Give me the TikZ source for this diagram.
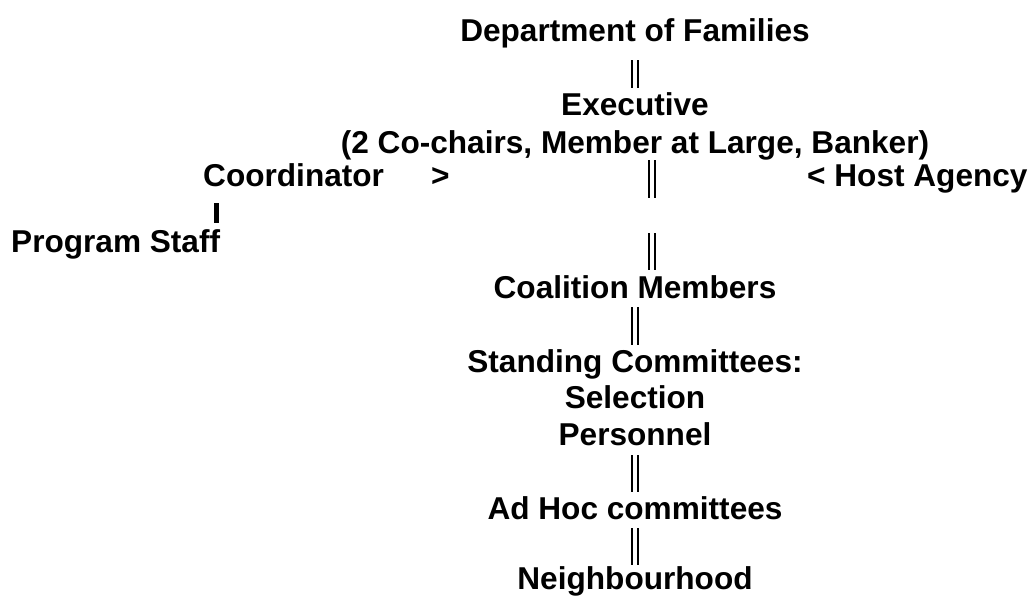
\documentclass[tikz,border=0pt]{standalone}
\usepackage{fontspec}
\setmainfont{Liberation Sans}
\tikzset{
  lbl/.style={inner sep=0, font=\bfseries\fontsize{31.6}{37}\selectfont},
  dbar/.style={double, double distance=3.8pt, line width=2.2pt},
  sbar/.style={line width=5pt}
}
\begin{document}
\begin{tikzpicture}[x=1pt,y=-1pt]
\useasboundingbox (0,0) rectangle (1031,597);
\node[lbl, anchor=base] (dept) at (635,41){Department of Families};
\node[lbl, anchor=base] (exec) at (635,115){Executive};
\node[lbl, anchor=base] (exec2) at (635,153){(2 Co-chairs, Member at Large, Banker)};
\draw[dbar]([yshift=-19pt]dept.base) -- ([yshift=27pt]exec.base);
\node[lbl, anchor=base west] (coord) at (203,186){Coordinator};
\node[lbl, anchor=base west] (gt) at (431,186){>};
\node[lbl, anchor=base west] (host) at (807,186){< Host Agency};
\node[lbl, anchor=base west] (staff) at (11,252){Program Staff};
\draw[sbar]([xshift=13.5pt,yshift=-17pt]coord.base west) -- ([xshift=205.5pt,yshift=29pt]staff.base west);
\node[lbl, anchor=base] (coal) at (635,298){Coalition Members};
\draw[dbar]([xshift=17pt,yshift=-7pt]exec2.base) -- ([xshift=17pt,yshift=-45pt]exec2.base);
\draw[dbar]([xshift=17pt,yshift=65pt]coal.base) -- ([xshift=17pt,yshift=28pt]coal.base);
\node[lbl, anchor=base] (stand) at (635,372){Standing Committees:};
\node[lbl, anchor=base] (sel) at (635,408){Selection};
\node[lbl, anchor=base] (pers) at (635,445){Personnel};
\draw[dbar]([yshift=-9pt]coal.base) -- ([yshift=27pt]stand.base);
\node[lbl, anchor=base] (adhoc) at (635,519){Ad Hoc committees};
\draw[dbar]([yshift=-10pt]pers.base) -- ([yshift=27pt]adhoc.base);
\node[lbl, anchor=base] (neigh) at (635,589){Neighbourhood};
\draw[dbar]([yshift=-9pt]adhoc.base) -- ([yshift=24pt]neigh.base);
\end{tikzpicture}
\end{document}
